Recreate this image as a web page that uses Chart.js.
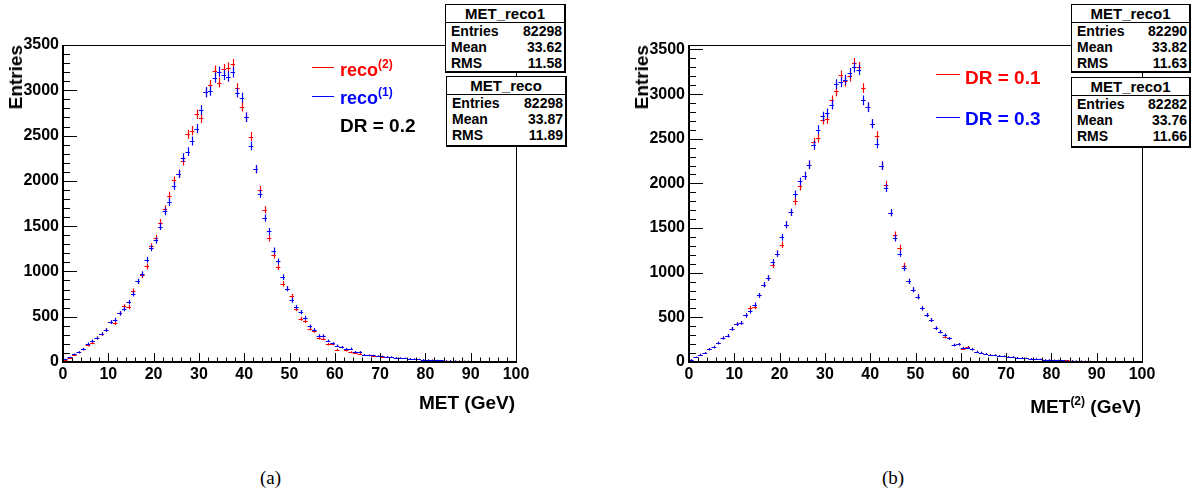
<!DOCTYPE html>
<html>
<head>
<meta charset="utf-8">
<script src="https://cdn.jsdelivr.net/npm/chart.js@4.4.1/dist/chart.umd.min.js"></script>
<style>
  body { margin: 0; width: 1196px; height: 492px; position: relative; background: #fff; overflow: hidden;
         font-family: "Liberation Sans", Arial, Helvetica, sans-serif; }
  .panel { position: absolute; top: 0; width: 598px; height: 440px; }
  .txt { position: absolute; font-weight: bold; white-space: nowrap; }
  .ytitle { position: absolute; top: 45px; font-weight: bold; font-size: 19px; line-height: 19px;
            writing-mode: vertical-rl; transform: rotate(180deg); }
  .leg-line { position: absolute; height: 0; border-top: 1px solid; }
  .stats { position: absolute; background: #fff; border: 1px solid #000; border-right-width: 2px; border-bottom-width: 2px;
           font-weight: bold; font-size: 14px; box-sizing: border-box; }
  .stats .head { text-align: center; font-size: 15px; height: 17px; line-height: 17px; border-bottom: 1px solid #000; }
  .stats .row { display: flex; justify-content: space-between; height: 16px; line-height: 16px; padding: 0 2px 0 5px; }
  .caption { position: absolute; top: 467px; font-family: "Liberation Serif", "Times New Roman", serif; font-size: 19px; }
  sup { font-size: 12px; vertical-align: 0; position: relative; top: -8px; }
</style>
</head>
<body>

<div class="panel" style="left:0"><canvas id="chartA"></canvas></div>
<div class="panel" style="left:598px"><canvas id="chartB"></canvas></div>

<!-- panel (a) -->
<div class="ytitle" style="left:6px">Entries</div>
<div class="txt" style="right:681px; top:392px; font-size:19px">MET (GeV)</div>
<div class="leg-line" style="left:312px; top:67px; width:22px; border-color:#f00"></div>
<div class="txt" style="left:340px; top:60px; font-size:18px; color:#f00">reco<sup>(2)</sup></div>
<div class="leg-line" style="left:312px; top:96px; width:22px; border-color:#00f"></div>
<div class="txt" style="left:340px; top:88px; font-size:18px; color:#00f">reco<sup>(1)</sup></div>
<div class="txt" style="left:340px; top:115px; font-size:19px">DR = 0.2</div>

<div class="stats" style="left:445px; top:4px; width:121px; height:69px">
  <div class="head">MET_reco1</div>
  <div class="row"><span>Entries</span><span>82298</span></div>
  <div class="row"><span>Mean</span><span>33.62</span></div>
  <div class="row"><span>RMS</span><span>11.58</span></div>
</div>
<div class="stats" style="left:446px; top:76px; width:121px; height:71px">
  <div class="head">MET_reco</div>
  <div class="row"><span>Entries</span><span>82298</span></div>
  <div class="row"><span>Mean</span><span>33.87</span></div>
  <div class="row"><span>RMS</span><span>11.89</span></div>
</div>

<!-- panel (b) -->
<div class="ytitle" style="left:632px">Entries</div>
<div class="txt" style="right:55px; top:396px; font-size:19px">MET<sup>(2)</sup> (GeV)</div>
<div class="leg-line" style="left:936px; top:74px; width:24px; border-color:#f00"></div>
<div class="txt" style="left:965px; top:67px; font-size:19px; color:#f00">DR = 0.1</div>
<div class="leg-line" style="left:936px; top:117px; width:24px; border-color:#00f"></div>
<div class="txt" style="left:965px; top:108px; font-size:19px; color:#00f">DR = 0.3</div>

<div class="stats" style="left:1071px; top:4px; width:120px; height:69px">
  <div class="head">MET_reco1</div>
  <div class="row"><span>Entries</span><span>82290</span></div>
  <div class="row"><span>Mean</span><span>33.82</span></div>
  <div class="row"><span>RMS</span><span>11.63</span></div>
</div>
<div class="stats" style="left:1071px; top:77px; width:120px; height:71px">
  <div class="head">MET_reco1</div>
  <div class="row"><span>Entries</span><span>82282</span></div>
  <div class="row"><span>Mean</span><span>33.76</span></div>
  <div class="row"><span>RMS</span><span>11.66</span></div>
</div>

<div class="caption" style="left:260px">(a)</div>
<div class="caption" style="left:882px">(b)</div>

<script>
// MET histograms, 100 bins of 1 GeV from 0 to 100
const binCenters = Array.from({ length: 100 }, (_, i) => i + 0.5);
const xTickValues = [0, 10, 20, 30, 40, 50, 60, 70, 80, 90, 100];
const yTickValues = [0, 500, 1000, 1500, 2000, 2500, 3000, 3500];

// panel (a): DR = 0.2
const recoTwoA = [20, 48, 80, 105, 140, 184, 210, 265, 305, 353,
  440, 430, 537, 614, 607, 783, 890, 956, 1055, 1276,
  1368, 1540, 1688, 1838, 2004, 2077, 2217, 2515, 2555, 2735,
  2691, 2978, 3059, 3217, 3085, 3232, 3250, 3287, 3022, 2820,
  2702, 2489, 2129, 1900, 1680, 1368, 1176, 1048, 864, 809,
  724, 585, 478, 452, 368, 342, 265, 257, 195, 200,
  136, 165, 128, 107, 99, 92, 76, 74, 68, 66,
  60, 57, 52, 45, 44, 40, 36, 30, 30, 26,
  24, 22, 19, 18, 16, 14, 13, 12, 11, 10,
  9, 8, 8, 7, 6, 6, 5, 5, 4, 4];
const recoOneA = [30, 51, 85, 107, 143, 200, 232, 265, 312, 353,
  441, 467, 537, 585, 662, 750, 890, 970, 1129, 1257,
  1342, 1496, 1662, 1765, 1945, 2077, 2257, 2323, 2440, 2577,
  2783, 2978, 2993, 3140, 3206, 3169, 3151, 3199, 2974, 2919,
  2702, 2386, 2129, 1857, 1588, 1441, 1228, 1110, 937, 809,
  680, 606, 551, 489, 393, 357, 290, 290, 232, 205,
  180, 165, 143, 147, 110, 110, 80, 72, 72, 65,
  62, 56, 54, 48, 42, 40, 35, 33, 28, 27,
  23, 21, 20, 17, 15, 15, 13, 11, 11, 10,
  8, 9, 7, 7, 6, 5, 5, 4, 4, 3];

// panel (b): MET(2) for DR = 0.1 and DR = 0.3
const dr01B = [26, 52, 82, 100, 145, 168, 213, 268, 295, 373,
  425, 437, 522, 604, 616, 746, 866, 940, 1082, 1213,
  1313, 1537, 1675, 1798, 1966, 2086, 2209, 2463, 2507, 2713,
  2720, 2929, 3030, 3209, 3142, 3198, 3347, 3302, 3067, 2854,
  2668, 2534, 2198, 1985, 1672, 1425, 1276, 1078, 903, 810,
  731, 601, 526, 470, 377, 340, 283, 265, 190, 198,
  150, 165, 142, 116, 104, 90, 78, 74, 70, 62,
  56, 55, 50, 46, 42, 38, 34, 30, 27, 24,
  22, 20, 18, 17, 15, 13, 12, 11, 10, 9,
  8, 8, 7, 6, 6, 5, 5, 4, 4, 3];
const dr03B = [26, 52, 82, 100, 145, 168, 213, 268, 295, 373,
  425, 437, 522, 567, 642, 746, 866, 940, 1119, 1213,
  1396, 1537, 1675, 1877, 2022, 2086, 2209, 2425, 2601, 2750,
  2787, 2881, 3112, 3134, 3160, 3235, 3299, 3272, 2929, 2854,
  2668, 2444, 2198, 1948, 1672, 1388, 1213, 1052, 903, 810,
  731, 601, 526, 470, 377, 340, 302, 265, 190, 198,
  155, 158, 142, 116, 104, 90, 76, 76, 68, 64,
  58, 53, 50, 44, 41, 37, 35, 31, 26, 25,
  21, 20, 17, 16, 15, 14, 12, 10, 10, 9,
  8, 7, 7, 6, 6, 5, 4, 4, 3, 3];

const tickFont = { family: '"Liberation Sans", Arial, sans-serif', size: 16, weight: 'bold' };

// draws each bin as a cross: bin width horizontally, sqrt(N) vertically
const errorBars = {
  id: 'errorBars',
  afterDatasetsDraw(chart) {
    const { ctx, chartArea: a, scales: { x, y } } = chart;
    ctx.save();
    ctx.beginPath();
    ctx.rect(a.left, a.top, a.right - a.left, a.bottom - a.top);
    ctx.clip();
    ctx.lineWidth = 1.2;
    chart.data.datasets.forEach(ds => {
      ctx.strokeStyle = ds.borderColor;
      ctx.beginPath();
      ds.data.forEach(p => {
        const err = Math.sqrt(p.y);
        const px = Math.round(x.getPixelForValue(p.x)) + 0.5;
        const py = Math.round(y.getPixelForValue(p.y)) + 0.5;
        ctx.moveTo(x.getPixelForValue(p.x - 0.5), py);
        ctx.lineTo(x.getPixelForValue(p.x + 0.5), py);
        ctx.moveTo(px, y.getPixelForValue(p.y - err));
        ctx.lineTo(px, y.getPixelForValue(p.y + err));
      });
      ctx.stroke();
    });
    ctx.restore();
  }
};

// frame with inward ticks
const rootFrame = {
  id: 'rootFrame',
  afterDraw(chart) {
    const { ctx, chartArea: a, scales: { x, y } } = chart;
    ctx.save();
    ctx.strokeStyle = '#000';
    ctx.lineWidth = 1;
    ctx.strokeRect(a.left + 0.5, a.top + 0.5, a.right - a.left, a.bottom - a.top);
    ctx.lineWidth = 2;
    ctx.beginPath();
    ctx.moveTo(a.left, a.top);
    ctx.lineTo(a.left, a.bottom);
    ctx.lineTo(a.right + 1, a.bottom);
    ctx.stroke();
    ctx.lineWidth = 1;
    ctx.beginPath();
    for (let v = 0; v <= y.max; v += 100) {
      const py = Math.round(y.getPixelForValue(v)) + 0.5;
      const len = v % 500 === 0 ? 14 : 7;
      ctx.moveTo(a.left, py);
      ctx.lineTo(a.left + len, py);
    }
    for (let v = 0; v <= 100; v += 2) {
      const px = Math.round(x.getPixelForValue(v)) + 0.5;
      const len = v % 10 === 0 ? 9 : 4.5;
      ctx.moveTo(px, a.bottom);
      ctx.lineTo(px, a.bottom - len);
    }
    ctx.stroke();
    ctx.restore();
  }
};

function makeChart(id, red, blue, yMax, padLeft, padRight) {
  new Chart(document.getElementById(id), {
    type: 'scatter',
    data: {
      datasets: [
        { data: binCenters.map((c, i) => ({ x: c, y: red[i] })), borderColor: '#ff0000', pointRadius: 0 },
        { data: binCenters.map((c, i) => ({ x: c, y: blue[i] })), borderColor: '#0000ff', pointRadius: 0 }
      ]
    },
    options: {
      responsive: true,
      maintainAspectRatio: false,
      animation: false,
      layout: { padding: { left: padLeft, right: padRight, top: 45, bottom: 0 } },
      plugins: { legend: { display: false }, tooltip: { enabled: false } },
      scales: {
        x: {
          type: 'linear', min: 0, max: 100,
          grid: { display: false, drawTicks: false },
          border: { display: false },
          afterBuildTicks(s) { s.ticks = xTickValues.map(v => ({ value: v })); },
          ticks: { color: '#000', font: tickFont, padding: 3, maxRotation: 0, autoSkip: false,
                   callback: v => String(v) },
          afterFit(s) { s.height = 78; }
        },
        y: {
          min: 0, max: yMax,
          grid: { display: false, drawTicks: false },
          border: { display: false },
          afterBuildTicks(s) { s.ticks = yTickValues.map(v => ({ value: v })); },
          ticks: { color: '#000', font: tickFont, padding: 4, autoSkip: false,
                   callback: v => String(v) },
          afterFit(s) { s.width = 63; }
        }
      }
    },
    plugins: [errorBars, rootFrame]
  });
}

makeChart('chartA', recoTwoA, recoOneA, 3500, 0, 82);
makeChart('chartB', dr01B, dr03B, 3550, 28, 54);
</script>
</body>
</html>
